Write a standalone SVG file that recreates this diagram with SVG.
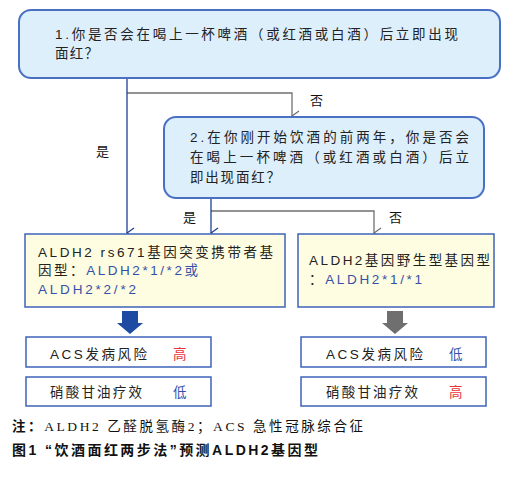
<svg xmlns="http://www.w3.org/2000/svg" width="517" height="487" viewBox="0 0 517 487">
<defs>
<style>
.q{fill:#deeffc;stroke:#4a70c6;stroke-width:2}
.g{fill:#fefde1;stroke:#3f63b9;stroke-width:1.5}
.r{fill:#ffffff;stroke:#3f63b9;stroke-width:1.5}
.t{font-family:"Liberation Sans","Noto Sans CJK SC",sans-serif;font-size:13.5px;fill:#222}
.b{fill:#3550a8}
.red{fill:#e8323c}
.lbl{font-family:"Liberation Sans","Noto Sans CJK SC",sans-serif;font-size:13px;fill:#111}
.gl{fill:none;stroke:#707070;stroke-width:1.3}
.bl{fill:none;stroke:#1f3f94;stroke-width:1.3}
</style>
<marker id="ag" markerWidth="12" markerHeight="10" refX="6" refY="9" orient="auto-start-reverse" markerUnits="userSpaceOnUse" viewBox="0 0 12 10">
<path d="M1,2 L6,9 L11,2" fill="none" stroke="#707070" stroke-width="1.3"/>
</marker>
<marker id="ab" markerWidth="12" markerHeight="10" refX="6" refY="9" orient="auto-start-reverse" markerUnits="userSpaceOnUse" viewBox="0 0 12 10">
<path d="M1,2 L6,9 L11,2" fill="none" stroke="#1f3f94" stroke-width="1.3"/>
</marker>
</defs>
<rect width="517" height="487" fill="#ffffff"/>

<g id="connectors">
<path class="gl" d="M127,93 H292 V116" marker-end="url(#ag)"/>
<path class="bl" d="M127,78 V233" marker-end="url(#ab)"/>
<path class="gl" d="M211,211 H374 V233" marker-end="url(#ag)"/>
<path class="bl" d="M211,198 V233" marker-end="url(#ab)"/>
<path d="M122,311 H138 V323 H143 L130,334 L117,323 H122 Z" fill="#1d4aa2"/>
<path d="M387,311 H403 V323 H408 L395,334 L382,323 H387 Z" fill="#6f6f6f"/>
<text class="lbl" x="96" y="156">是</text>
<text class="lbl" x="310" y="105">否</text>
<text class="lbl" x="183" y="222">是</text>
<text class="lbl" x="389" y="222">否</text>
</g>

<g id="q1">
<rect class="q" x="19" y="10" width="481" height="68" rx="12"/>
<text class="t" x="55" y="39" textLength="403" lengthAdjust="spacing">1.你是否会在喝上一杯啤酒（或红酒或白酒）后立即出现</text>
<text class="t" x="55" y="58" textLength="43" lengthAdjust="spacing">面红？</text>
</g>

<g id="q2">
<rect class="q" x="164" y="117" width="320" height="81" rx="12"/>
<text class="t" x="190" y="142" textLength="279" lengthAdjust="spacing">2.在你刚开始饮酒的前两年，你是否会</text>
<text class="t" x="190" y="162" textLength="279" lengthAdjust="spacing">在喝上一杯啤酒（或红酒或白酒）后立</text>
<text class="t" x="190" y="182" textLength="90" lengthAdjust="spacing">即出现面红？</text>
</g>

<g id="mutant">
<rect class="g" x="25" y="234" width="260" height="73"/>
<text class="t" x="38" y="257" textLength="235" lengthAdjust="spacing">ALDH2 rs671基因突变携带者基</text>
<text class="t" x="38" y="275" textLength="160" lengthAdjust="spacing">因型：<tspan class="b">ALDH2*1/*2或</tspan></text>
<text class="t b" x="38" y="294" textLength="98" lengthAdjust="spacing">ALDH2*2/*2</text>
</g>

<g id="wild">
<rect class="g" x="298" y="234" width="196" height="73"/>
<text class="t" x="309" y="265" textLength="181" lengthAdjust="spacing">ALDH2基因野生型基因型</text>
<text class="t" x="309" y="284" textLength="113" lengthAdjust="spacing">：<tspan class="b">ALDH2*1/*1</tspan></text>
</g>

<g id="left-risk">
<rect class="r" x="26" y="337" width="185" height="30"/>
<text class="t" x="50" y="359" textLength="97" lengthAdjust="spacing">ACS发病风险</text>
<text class="t red" x="173" y="359">高</text>
</g>
<g id="left-effect">
<rect class="r" x="26" y="377" width="185" height="29"/>
<text class="t" x="50" y="397" textLength="92" lengthAdjust="spacing">硝酸甘油疗效</text>
<text class="t b" x="173" y="397">低</text>
</g>
<g id="right-risk">
<rect class="r" x="301" y="337" width="185" height="30"/>
<text class="t" x="326" y="359" textLength="97" lengthAdjust="spacing">ACS发病风险</text>
<text class="t b" x="449" y="359">低</text>
</g>
<g id="right-effect">
<rect class="r" x="301" y="377" width="185" height="29"/>
<text class="t" x="326" y="397" textLength="92" lengthAdjust="spacing">硝酸甘油疗效</text>
<text class="t red" x="449" y="397">高</text>
</g>

<g id="caption">
<text x="12" y="431" font-family="'Liberation Serif','Noto Sans CJK SC',serif" font-size="13.5" fill="#111" textLength="351" lengthAdjust="spacing"><tspan font-weight="bold" font-family="'Liberation Sans','Noto Sans CJK SC',sans-serif">注：</tspan>ALDH2  乙醛脱氢酶2；ACS  急性冠脉综合征</text>
<text x="12" y="455" font-family="'Liberation Sans','Noto Sans CJK SC',sans-serif" font-size="14" font-weight="bold" fill="#111" textLength="306" lengthAdjust="spacing">图1 “饮酒面红两步法”预测ALDH2基因型</text>
</g>
</svg>
